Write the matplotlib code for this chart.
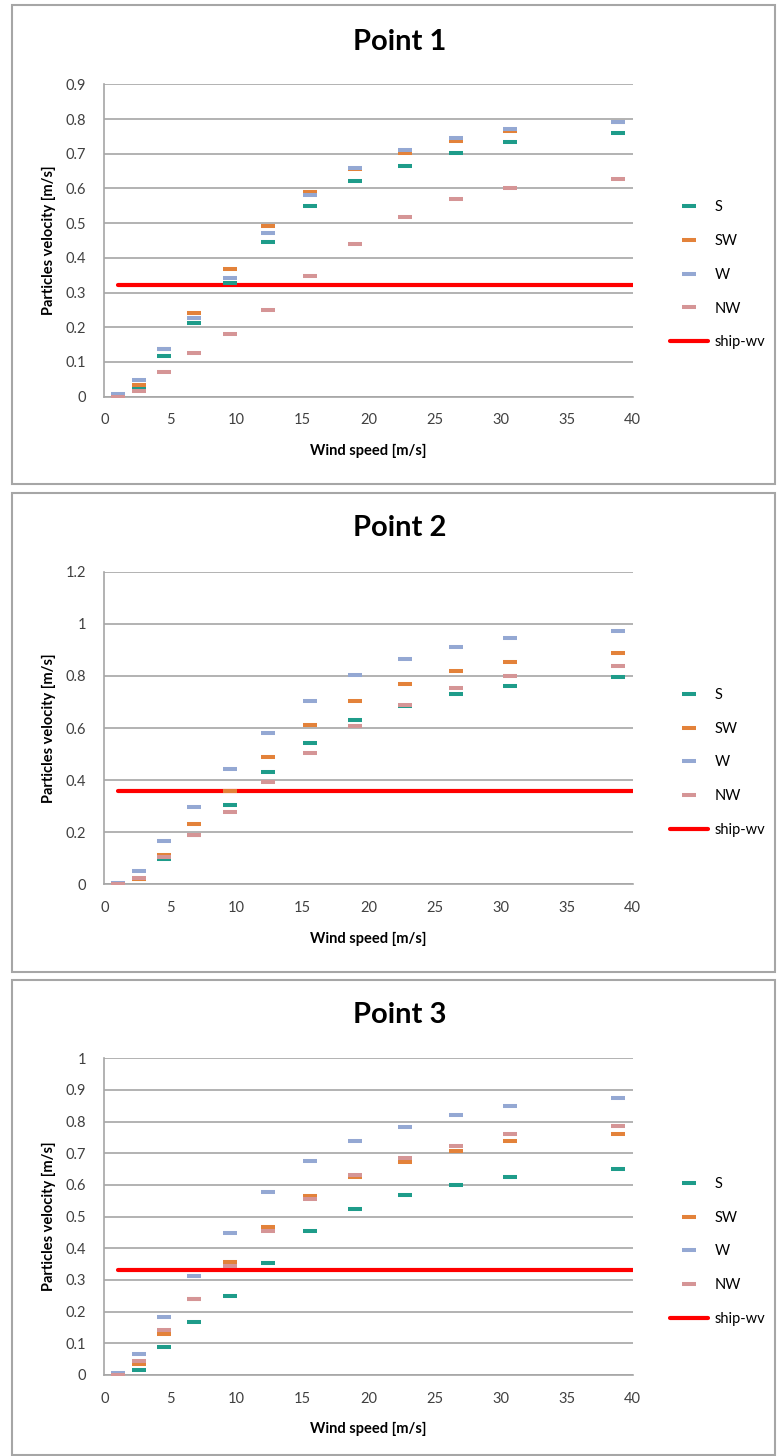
import matplotlib
matplotlib.use('Agg')
import matplotlib.pyplot as plt
from matplotlib.patches import Rectangle
from matplotlib.ticker import FuncFormatter, MultipleLocator

plt.rcParams['font.family'] = ['Lato', 'DejaVu Sans']

# wind speed [m/s] (x positions of the markers)
wind = [1.0, 2.6, 4.5, 6.8, 9.5, 12.4, 15.6, 19.0, 22.8, 26.6, 30.7, 38.9]
series = ['S', 'SW', 'W', 'NW']
colors = ['#1e9c8a', '#e3823a', '#94a8d3', '#d59596']

# Point 1
p1_s = [0.002, 0.024, 0.116, 0.212, 0.327, 0.447, 0.549, 0.622, 0.666, 0.702, 0.735, 0.759]
p1_sw = [0.003, 0.033, 0.136, 0.242, 0.367, 0.493, 0.591, 0.657, 0.703, 0.737, 0.765, 0.791]
p1_w = [0.007, 0.048, 0.137, 0.226, 0.342, 0.472, 0.580, 0.658, 0.711, 0.746, 0.770, 0.792]
p1_nw = [0.0, 0.016, 0.072, 0.125, 0.181, 0.250, 0.347, 0.440, 0.517, 0.569, 0.601, 0.626]
# Point 2
p2_s = [0.002, 0.020, 0.098, 0.190, 0.306, 0.430, 0.544, 0.629, 0.685, 0.732, 0.762, 0.794]
p2_sw = [0.003, 0.019, 0.112, 0.230, 0.359, 0.489, 0.613, 0.705, 0.769, 0.817, 0.855, 0.887]
p2_w = [0.006, 0.052, 0.165, 0.296, 0.441, 0.581, 0.705, 0.802, 0.866, 0.910, 0.947, 0.974]
p2_nw = [0.0, 0.026, 0.105, 0.188, 0.278, 0.393, 0.505, 0.609, 0.688, 0.753, 0.801, 0.839]
# Point 3
p3_s = [0.002, 0.016, 0.087, 0.166, 0.251, 0.353, 0.454, 0.525, 0.569, 0.600, 0.626, 0.649]
p3_sw = [0.003, 0.034, 0.131, 0.240, 0.358, 0.467, 0.566, 0.626, 0.672, 0.707, 0.738, 0.760]
p3_w = [0.007, 0.065, 0.184, 0.313, 0.449, 0.578, 0.676, 0.739, 0.782, 0.822, 0.848, 0.875]
p3_nw = [0.0, 0.045, 0.143, 0.240, 0.344, 0.455, 0.557, 0.631, 0.684, 0.724, 0.760, 0.786]

ship_x = [1.0, 40.0]
ship_wv = [0.322, 0.359, 0.332]

titles = ['Point 1', 'Point 2', 'Point 3']
ymax = [0.9, 1.2, 1.0]
ystep = [0.1, 0.2, 0.1]
panel_data = [[p1_s, p1_sw, p1_w, p1_nw],
              [p2_s, p2_sw, p2_w, p2_nw],
              [p3_s, p3_sw, p3_w, p3_nw]]

W, H = 777, 1456
fig = plt.figure(figsize=(W / 100, H / 100), dpi=100)

# pixel layout of each panel: (box top, box bottom, axes top, axes bottom, title y)
layout = [(5, 484, 84.3, 396.7, 42),
          (493, 972, 571.7, 884.3, 528),
          (980, 1455, 1058.3, 1375, 1015)]
grey = '#a6a6a6'

for i in range(3):
    btop, bbot, atop, abot, ty = layout[i]
    fig.add_artist(Rectangle((12 / W, 1 - bbot / H), (775 - 12) / W, (bbot - btop) / H,
                             transform=fig.transFigure, fill=False, ec=grey, lw=1.5))
    ax = fig.add_axes([104.3 / W, 1 - abot / H, (632.7 - 104.3) / W, (abot - atop) / H])

    ax.plot(ship_x, [ship_wv[i]] * 2, color='#ff0000', lw=3, solid_capstyle='round',
            zorder=2, label='ship-wv')
    handles = []
    for name, vals, c in zip(series, panel_data[i], colors):
        h, = ax.plot(wind, vals, ls='none', marker='_', ms=10, mew=2.9, color=c,
                     label=name, zorder=3)
        handles.append(h)
    handles.append(ax.lines[0])

    ax.set_xlim(0, 40)
    ax.set_ylim(0, ymax[i])
    ax.xaxis.set_major_locator(MultipleLocator(5))
    ax.yaxis.set_major_locator(MultipleLocator(ystep[i]))
    ax.yaxis.set_major_formatter(FuncFormatter(lambda v, p: f'{v:g}'))
    ax.grid(axis='y', color=grey, lw=1.2)
    ax.set_axisbelow(True)
    for s in ['top', 'right']:
        ax.spines[s].set_visible(False)
    for s in ['left', 'bottom']:
        ax.spines[s].set_color(grey)
        ax.spines[s].set_linewidth(1.2)
    ax.tick_params(length=0, labelsize=10.5, labelcolor='#404040')
    ax.tick_params(axis='y', pad=13)
    ax.tick_params(axis='x', pad=12)

    ax.set_xlabel('Wind speed [m/s]', fontsize=10.5, fontweight='bold', labelpad=12)
    ax.set_ylabel('Particles velocity [m/s]', fontsize=10.5, fontweight='bold', labelpad=7)
    fig.text(400 / W, 1 - ty / H, titles[i], ha='center', va='center',
             fontsize=21, fontweight='bold')

    ax.legend(handles=handles, labels=series + ['ship-wv'], loc='center left',
              bbox_to_anchor=(1.045, 0.39), frameon=False, fontsize=10.5,
              handlelength=2.6, labelspacing=1.35, handletextpad=0.5)

fig.savefig('out.png', dpi=100)
